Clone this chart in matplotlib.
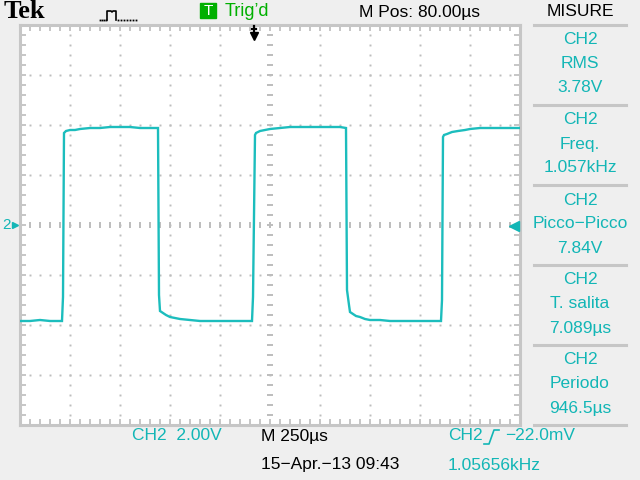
#!/usr/bin/env python3
"""Redraw of a Tek scope screen: CH2 square wave with the MISURE panel."""

import matplotlib
matplotlib.use("Agg")
import matplotlib.pyplot as plt
import matplotlib.transforms as mtransforms
import numpy as np

# trace: time in us (trigger at 0), CH2 in volts
trace_t_us = [
    -1170, -1120, -1070, -1020, -960, -955, -950, -940, -920, -895, -870, -820,
    -770, -720, -670, -620, -570, -520, -480, -475, -470, -455, -440, -420,
    -395, -370, -320, -270, -170, -10, -5, 5, 10, 30, 55, 80, 130, 180, 230,
    330, 430, 460, 465, 475, 480, 495, 510, 530, 555, 580, 630, 680, 780, 935,
    940, 945, 950, 965, 990, 1020, 1055, 1080, 1130, 1230, 1330,
]
trace_v = [
    -3.84, -3.84, -3.80, -3.84, -3.84, -2.88, 3.68, 3.76, 3.80, 3.80, 3.84, 3.88,
    3.88, 3.92, 3.92, 3.92, 3.88, 3.88, 3.88, -2.80, -3.44, -3.52, -3.60, -3.68,
    -3.72, -3.76, -3.80, -3.84, -3.84, -3.84, -2.88, 3.60, 3.68, 3.76, 3.80,
    3.84, 3.88, 3.92, 3.92, 3.92, 3.92, 3.88, -2.60, -3.20, -3.48, -3.56, -3.64,
    -3.68, -3.76, -3.80, -3.80, -3.84, -3.84, -3.84, -3.00, 3.52, 3.60, 3.64,
    3.72, 3.76, 3.80, 3.84, 3.88, 3.88, 3.88,
]

meas_names = ["RMS", "Freq.", "Picco\u2212Picco", "T. salita", "Periodo"]
meas_values = ["3.78V", "1.057kHz", "7.84V", "7.089\u00b5s", "946.5\u00b5s"]

volts_per_div = 2.0
us_per_div = 250.0
h_pos_us = 80.0
n_hdiv, n_vdiv = 10, 8

TEAL = "#12B6B6"
TRACE = "#1CBDBD"
BG = "#EFEFEF"
GRID = "#BDBDBD"
BORDER = "#C6C6C6"
FONT = ["Liberation Sans", "DejaVu Sans"]

W, H = 640, 480
fig = plt.figure(figsize=(6.4, 4.8), dpi=100, facecolor=BG)


def px(x, y):
    return x / W, 1 - y / H


def ptext(x, y, s, color="black", size=12.5, ha="left", **kw):
    fx, fy = px(x, y)
    fig.text(fx, fy, s, color=color, fontsize=size, ha=ha, va="center",
             family=kw.pop("family", FONT), **kw)


# plot area: 500x400 px at (20, 25)
ax = fig.add_axes([20 / W, 55 / H, 500 / W, 400 / H])
ax.set_facecolor("white")
x0 = h_pos_us - us_per_div * n_hdiv / 2
x1 = h_pos_us + us_per_div * n_hdiv / 2
y0, y1 = -volts_per_div * n_vdiv / 2, volts_per_div * n_vdiv / 2
ax.set_xlim(x0, x1)
ax.set_ylim(y0, y1)

for sp in ax.spines.values():
    sp.set_color(BORDER)
    sp.set_linewidth(2.2)

xmaj = np.arange(n_hdiv + 1) * us_per_div + x0
ymaj = np.arange(n_vdiv + 1) * volts_per_div + y0
xmin = np.arange(n_hdiv * 5 + 1) * us_per_div / 5 + x0
ymin = np.arange(n_vdiv * 5 + 1) * volts_per_div / 5 + y0
ax.set_xticks(xmin)
ax.set_yticks(ymin)
ax.tick_params(direction="in", length=4, width=1.4, color=BORDER,
               top=True, right=True, labelbottom=False, labelleft=False)

# dotted graticule
xc, yc = h_pos_us, 0.0
for gx in xmaj[1:-1]:
    if np.isclose(gx, xc):
        ax.plot(np.full_like(ymin, gx), ymin, ls="none", marker="_",
                ms=4.5, mew=1.4, color=GRID)
    else:
        ax.plot(np.full_like(ymin, gx), ymin, ls="none", marker="s",
                ms=1.4, mew=0, color=GRID)
for gy in ymaj[1:-1]:
    if np.isclose(gy, yc):
        ax.plot(xmin, np.full_like(xmin, gy), ls="none", marker="|",
                ms=4.5, mew=1.4, color=GRID)
    else:
        ax.plot(xmin, np.full_like(xmin, gy), ls="none", marker="s",
                ms=1.4, mew=0, color=GRID)

ax.plot(trace_t_us, trace_v, color=TRACE, lw=1.7, solid_joinstyle="miter",
        zorder=5)

# trigger position arrow (top) and level arrow (right)
trans = mtransforms.blended_transform_factory(ax.transData, ax.transAxes)
ax.plot([0, 0], [0.997, 0.975], color="black", lw=1.6, transform=trans,
        clip_on=False, zorder=6)
ax.plot([-12, 12], [0.99, 0.99], color="black", lw=1.6, transform=trans,
        clip_on=False, zorder=6)
ax.plot([0], [0.972], marker="v", ms=6, color="black", transform=trans,
        clip_on=False, zorder=6)
ax.plot([x1 - 30], [-0.022], marker="<", ms=7, color=TEAL, clip_on=False,
        zorder=6)

# channel ground marker left of the graticule
ptext(2, 225, "2", color=TEAL, size=11)
fig.lines.append(plt.Line2D([15 / W], [1 - 225 / H], marker=">", ms=5,
                            color=TEAL, transform=fig.transFigure))

# top bar
ptext(4, 12, "Tek", size=19, weight="bold",
      family=["Liberation Serif", "DejaVu Serif"])
icon_x = [100, 102, 104, 106, 107, 107, 111, 112, 113, 116, 116, 118, 121, 124, 127, 130, 133, 136]
icon_y = [20, 20, 20, 20, 20, 11, 11, 12, 11, 11, 20, 20, 20, 20, 20, 20, 20, 20]
fig.lines.append(plt.Line2D([v / W for v in icon_x[4:11]],
                            [1 - v / H for v in icon_y[4:11]],
                            color="black", lw=1.2, transform=fig.transFigure))
fig.lines.append(plt.Line2D([v / W for v in icon_x[:4] + icon_x[11:]],
                            [1 - v / H for v in icon_y[:4] + icon_y[11:]],
                            ls="none", marker="s", ms=1.3, mew=0, color="black",
                            transform=fig.transFigure))
fig.patches.append(plt.Rectangle(px(200, 18), 16 / W, 15 / H, color="#00B000",
                                 transform=fig.transFigure))
ptext(208, 11, "T", color="white", size=11, ha="center")
ptext(225, 11, "Trig\u2019d", color="#00B000", size=13)
ptext(359, 12, f"M Pos: {h_pos_us:.2f}\u00b5s", size=12.5)
ptext(580, 12, "MISURE", size=12.5, ha="center")

# measurement panel
for k in range(6):
    fy = 1 - (25 + 80 * k) / H
    fig.lines.append(plt.Line2D([534 / W, 626 / W], [fy, fy], color=BORDER,
                                lw=2.2, transform=fig.transFigure))
for k, (name, val) in enumerate(zip(meas_names, meas_values)):
    ptext(580, 40 + 80 * k, "CH2", color=TEAL, ha="center")
    ptext(580, 64 + 80 * k, name, color=TEAL, ha="center")
    ptext(580, 88 + 80 * k, val, color=TEAL, ha="center")

# bottom readout
ptext(132, 436, f"CH2  {volts_per_div:.2f}V", color=TEAL)
ptext(261, 436, f"M {us_per_div:.0f}\u00b5s")
ptext(261, 465, "15\u2212Apr.\u221213 09:43")
ptext(448, 436, "CH2", color=TEAL)
slope_x = [484, 489, 494, 499]
slope_y = [444, 444, 430, 430]
fig.lines.append(plt.Line2D([v / W for v in slope_x], [1 - v / H for v in slope_y],
                            color=TEAL, lw=1.2, transform=fig.transFigure))
ptext(505, 436, "\u221222.0mV", color=TEAL)
ptext(448, 465, "1.05656kHz", color=TEAL)

fig.savefig("out.png", dpi=100, facecolor=BG)
